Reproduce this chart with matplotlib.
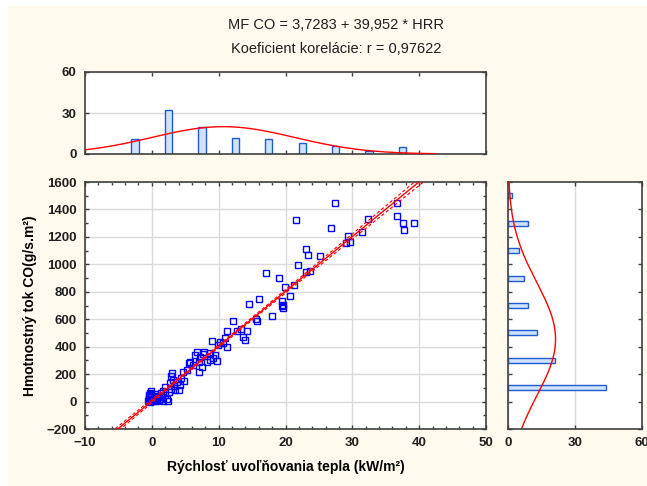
import numpy as np
import matplotlib
matplotlib.use("Agg")
from matplotlib import pyplot as plt
from matplotlib.patches import Rectangle

plt.rcParams['font.family'] = ['Liberation Sans', 'DejaVu Sans']

# regression from the title
intercept = 3.7283
slope = 39.952
title_1 = "MF CO = 3,7283 + 39,952 * HRR"
title_2 = "Koeficient korelácie: r = 0,97622"

# scatter points (HRR, MF CO)
hrr = [
    -0.5, -0.4, -0.3, -0.2, -0.15, -0.1, -0.45, -0.25, -0.35, -0.05, -0.1,
    0.1, 0.2, 0.3, 0.4, 0.5, 0.6, 0.75, 0.9, 1.0, 1.2, 1.3, 1.5, 1.7, 1.9, 2.0, 2.2,
    2.4, 2.5, 2.7, 2.8, 2.9, 3.0, 3.2, 3.5, 3.7, 4.0, 4.2, 4.4, 4.6, 4.8, 3.3, 1.6,
    5.2, 5.5, 5.7, 6.2, 6.5, 6.7, 7.0, 7.2, 7.5, 7.7, 8.2, 8.7, 9.2, 7.8, 8.7, 9.45,
    9.8, 9.0, 9.95, 7.1,
    11.0, 11.2, 11.3, 12.2, 12.8, 13.3, 13.6, 13.9, 14.3, 14.5, 10.2, 10.7,
    15.6, 15.8, 16.0, 17.1, 18.0, 19.0, 19.5, 19.5, 19.6, 19.6, 19.9,
    20.7, 21.2, 21.6, 21.8, 23.1, 23.1, 23.3, 23.6,
    25.2, 26.8, 27.4, 29.0, 29.3, 29.7,
    31.5, 32.4,
    36.7, 36.7, 37.6, 37.7, 39.2,
]
mfco = [
    5, 30, 60, 15, 75, 40, 20, 0, 45, 10, 55,
    20, 5, 35, 12, 55, 2, 25, 40, 8, 15, 60, 30, 3, 45, 108, 16,
    5, 72, 133, 186, 95, 205, 157, 84, 145, 84, 120, 175, 215, 152, 110, 80,
    230, 279, 290, 266, 339, 363, 290, 327, 254, 347, 290, 303, 315, 359, 352, 339,
    298, 444, 412, 218,
    461, 514, 395, 589, 512, 526, 473, 449, 514, 713, 436, 424,
    605, 589, 745, 935, 624, 903, 735, 694, 684, 705, 837,
    767, 850, 1321, 995, 1112, 942, 1070, 954,
    1059, 1267, 1447, 1156, 1207, 1163,
    1238, 1331,
    1447, 1352, 1301, 1248, 1301,
]

# marginal histograms
x_bins = [-2.5, 2.5, 7.5, 12.5, 17.5, 22.5, 27.5, 32.5, 37.5]
x_counts = [11, 32, 20, 12, 11, 8, 6, 2, 5]
y_bins = [100, 300, 500, 700, 900, 1100, 1300, 1500]
y_counts = [44, 21, 13, 9, 7, 5, 9, 2]

blue = "#0000ff"
red = "#ff0000"
bar_face = "#cfe2f8"
bar_edge = "#1f5bd0"
grid_col = "#dadada"
spine_col = "#404040"
cream = "#fff9ee"


def normal_curve(centers, counts, width, grid):
    c = np.array(centers, dtype=float)
    n = np.array(counts, dtype=float)
    tot = n.sum()
    m = (c * n).sum() / tot
    sd = np.sqrt((n * (c - m) ** 2).sum() / tot)
    return tot * width / (sd * np.sqrt(2 * np.pi)) * np.exp(-0.5 * ((grid - m) / sd) ** 2)


def style_axes(ax):
    for s in ax.spines.values():
        s.set_color(spine_col)
        s.set_linewidth(1.2)
    ax.tick_params(which="both", direction="in", top=True, right=True,
                   colors=spine_col, labelcolor="#202020", labelsize=9.5)
    ax.tick_params(which="major", length=3, width=1)
    ax.tick_params(which="minor", length=2, width=1)
    for lab in ax.get_xticklabels() + ax.get_yticklabels():
        lab.set_fontweight("bold")


fig = plt.figure(figsize=(6.47, 4.86), dpi=100, facecolor="white")
fig.patches.append(Rectangle((8 / 647, 0), 1, 480 / 486, transform=fig.transFigure,
                             facecolor=cream, edgecolor="none", zorder=-10))

ax = fig.add_axes([85 / 647, 57 / 486, 401 / 647, 247 / 486])
ax_top = fig.add_axes([85 / 647, 332 / 486, 401 / 647, 82 / 486])
ax_r = fig.add_axes([508 / 647, 57 / 486, 134 / 647, 247 / 486])

# main scatter
x = np.array(hrr)
y = np.array(mfco)
ax.plot(x, y, "s", mfc="none", mec=blue, ms=4, mew=1, zorder=3)

xx = np.linspace(-10, 50, 300)
yy = intercept + slope * xx
n = len(x)
res = y - (intercept + slope * x)
s = np.sqrt((res ** 2).sum() / (n - 2))
sxx = ((x - x.mean()) ** 2).sum()
band = s * np.sqrt(1 / n + (xx - x.mean()) ** 2 / sxx)
ax.plot(xx, yy, color=red, lw=1, zorder=4)
ax.plot(xx, yy + band, color=red, lw=0.8, ls=(0, (3, 2)), zorder=4)
ax.plot(xx, yy - band, color=red, lw=0.8, ls=(0, (3, 2)), zorder=4)

ax.set_xlim(-10, 50)
ax.set_ylim(-200, 1600)
ax.set_xticks(np.arange(-10, 51, 10))
ax.set_xticks(np.arange(-10, 51, 2), minor=True)
ax.set_yticks(np.arange(-200, 1601, 200))
ax.set_yticks(np.arange(-200, 1601, 100), minor=True)
ax.grid(True, which="major", color=grid_col, lw=1)
ax.set_axisbelow(True)
style_axes(ax)
ax.tick_params(axis="x", pad=6)
ax.tick_params(axis="y", pad=6)
ax.set_xlabel("Rýchlosť uvoľňovania tepla (kW/m²)", fontsize=10, fontweight="bold", labelpad=8)
ax.set_ylabel("Hmotnostný tok CO(g/s.m²)", fontsize=10, fontweight="bold", labelpad=7)

# top histogram
ax_top.bar(x_bins, x_counts, width=1.1, color=bar_face, edgecolor=bar_edge, lw=1, zorder=2)
gx = np.linspace(-10, 42.5, 300)
ax_top.plot(gx, normal_curve(x_bins, x_counts, 5, gx), color=red, lw=1, zorder=3)
ax_top.set_xlim(-10, 50)
ax_top.set_ylim(0, 60)
ax_top.set_xticks(np.arange(-10, 51, 10))
ax_top.set_xticklabels([])
ax_top.set_yticks([0, 30, 60])
ax_top.yaxis.grid(True, color=grid_col, lw=1)
ax_top.set_axisbelow(True)
style_axes(ax_top)
ax_top.tick_params(axis="y", pad=6)

# right histogram
ax_r.barh(y_bins, y_counts, height=36, color=bar_face, edgecolor=bar_edge, lw=1, zorder=2)
gy = np.linspace(-200, 1600, 300)
ax_r.plot(normal_curve(y_bins, y_counts, 200, gy), gy, color=red, lw=1, zorder=3)
ax_r.set_xlim(0, 60)
ax_r.set_ylim(-200, 1600)
ax_r.set_xticks([0, 30, 60])
ax_r.set_yticks(np.arange(-200, 1601, 200))
ax_r.set_yticklabels([])
ax_r.xaxis.grid(True, color=grid_col, lw=1)
ax_r.set_axisbelow(True)
style_axes(ax_r)
ax_r.tick_params(axis="x", pad=6)

fig.text(336 / 647, 1 - 25 / 486, title_1, ha="center", va="center", fontsize=10.5, color="#202020")
fig.text(336 / 647, 1 - 49 / 486, title_2, ha="center", va="center", fontsize=10.5, color="#202020")

fig.savefig("out.png", dpi=100, facecolor=fig.get_facecolor())
